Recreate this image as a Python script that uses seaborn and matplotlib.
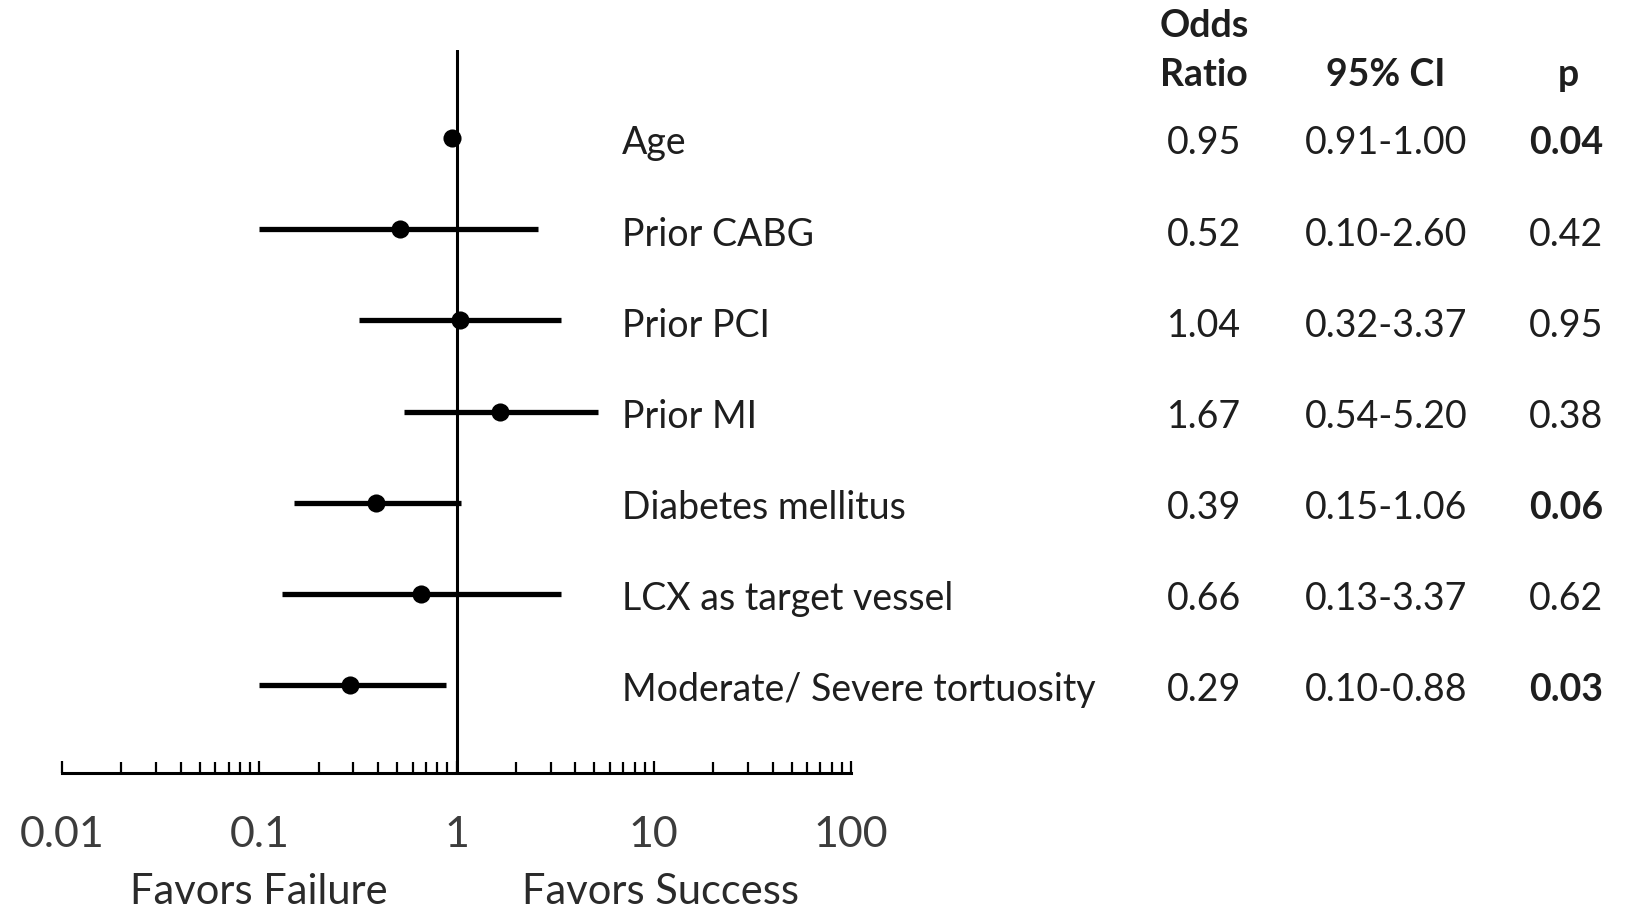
import matplotlib
matplotlib.use("Agg")
import matplotlib.pyplot as plt
import matplotlib.transforms as mtransforms
from matplotlib.ticker import FixedLocator, FixedFormatter, NullFormatter
import numpy as np
import pandas as pd
import seaborn as sns

variables = ["Age", "Prior CABG", "Prior PCI", "Prior MI", "Diabetes mellitus",
             "LCX as target vessel", "Moderate/ Severe tortuosity"]
odds_ratio = [0.95, 0.52, 1.04, 1.67, 0.39, 0.66, 0.29]
ci_low = [0.91, 0.10, 0.32, 0.54, 0.15, 0.13, 0.10]
ci_high = [1.00, 2.60, 3.37, 5.20, 1.06, 3.37, 0.88]
p_values = ["0.04", "0.42", "0.95", "0.38", "0.06", "0.62", "0.03"]
p_significant = [True, False, False, False, True, False, True]
tick_values = [0.01, 0.1, 1, 10, 100]
tick_labels = ["0.01", "0.1", "1", "10", "100"]

sns.set_theme(style="white")
plt.rcParams["font.family"] = ["Lato", "DejaVu Sans"]

W, H = 1627, 910
fig = plt.figure(figsize=(W / 100, H / 100), dpi=100)
ax_left, ax_right = 62 / W, 851 / W
ax_bottom, ax_top = 1 - 773 / H, 1 - 50 / H
ax = fig.add_axes([ax_left, ax_bottom, ax_right - ax_left, ax_top - ax_bottom])

df = pd.DataFrame({"var": variables, "or": odds_ratio, "lo": ci_low, "hi": ci_high,
                   "row": np.arange(len(variables))})

ax.hlines(df["row"], df["lo"], df["hi"], color="black", lw=3.8, zorder=2)
sns.scatterplot(data=df, x="or", y="row", ax=ax, color="black", s=170,
                edgecolor="black", linewidth=0, zorder=3, legend=False)
ax.axvline(1, color="black", lw=2.2, zorder=1)

ax.set_xscale("log")
ax.set_xlim(0.01, 100)
ax.set_ylim(6.965, -0.965)
for s in ["top", "right", "left"]:
    ax.spines[s].set_visible(False)
ax.spines["bottom"].set_linewidth(2.2)
ax.spines["bottom"].set_color("black")
ax.set_yticks([])
ax.set_xlabel("")
ax.set_ylabel("")

ax.xaxis.set_major_locator(FixedLocator(tick_values))
ax.xaxis.set_major_formatter(FixedFormatter(tick_labels))
minor = [m * 10.0 ** e for e in range(-2, 2) for m in range(2, 10)]
ax.xaxis.set_minor_locator(FixedLocator(minor))
ax.xaxis.set_minor_formatter(NullFormatter())
ax.tick_params(axis="x", which="both", direction="in", bottom=True, color="black",
               width=1.6)
ax.tick_params(axis="x", which="major", length=9, pad=31, labelsize=31, labelcolor="#3c3c3c")
ax.tick_params(axis="x", which="minor", length=8)

blend = mtransforms.blended_transform_factory(fig.transFigure, ax.transData)
fs = 27
dy = 0.06
for i, v in enumerate(variables):
    y = i + dy
    ax.text(622 / W, y, v, transform=blend, ha="left", va="center", fontsize=fs,
            color="#1e1e1e")
    ax.text(1204 / W, y, f"{odds_ratio[i]:.2f}", transform=blend, ha="center",
            va="center", fontsize=fs, color="#1e1e1e")
    ax.text(1386 / W, y, f"{ci_low[i]:.2f}-{ci_high[i]:.2f}", transform=blend,
            ha="center", va="center", fontsize=fs, color="#1e1e1e")
    ax.text(1603 / W, y, p_values[i], transform=blend, ha="right", va="center",
            fontsize=fs, color="#1e1e1e",
            fontweight="bold" if p_significant[i] else "normal")

fig.text(1204 / W, 1 - 26 / H, "Odds", ha="center", va="center", fontsize=fs,
         fontweight="bold", color="#1e1e1e")
fig.text(1204 / W, 1 - 75 / H, "Ratio", ha="center", va="center", fontsize=fs,
         fontweight="bold", color="#1e1e1e")
fig.text(1386 / W, 1 - 75 / H, "95% CI", ha="center", va="center", fontsize=fs,
         fontweight="bold", color="#1e1e1e")
fig.text(1568 / W, 1 - 75 / H, "p", ha="center", va="center", fontsize=fs,
         fontweight="bold", color="#1e1e1e")

fig.text(259 / W, 1 - 892 / H, "Favors Failure", ha="center", va="center",
         fontsize=30, color="#2a2a2a")
fig.text(661 / W, 1 - 892 / H, "Favors Success", ha="center", va="center",
         fontsize=30, color="#2a2a2a")

fig.savefig("out.png", dpi=100, facecolor="white")
